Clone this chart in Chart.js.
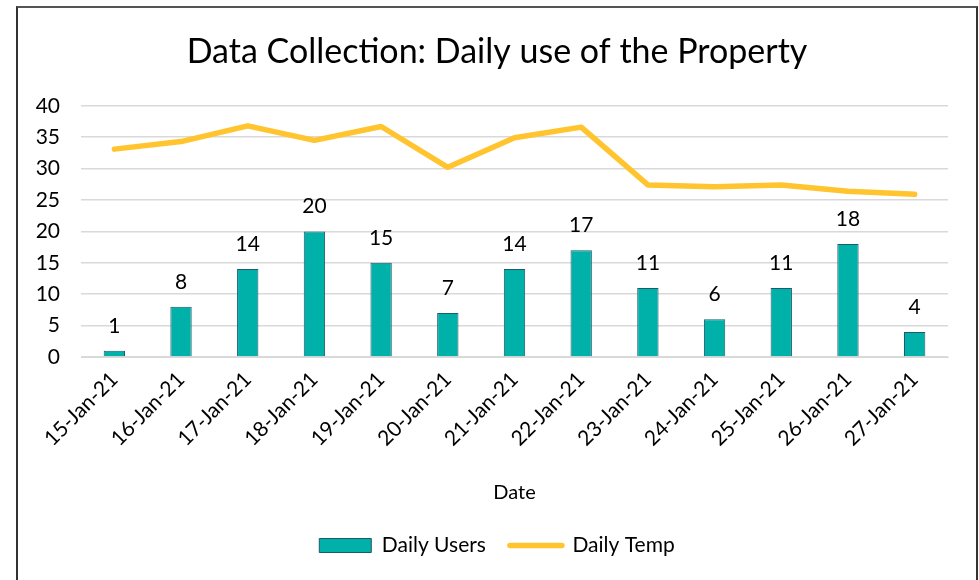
<!DOCTYPE html>
<html>
<head>
<meta charset="utf-8">
<script src="https://cdn.jsdelivr.net/npm/chart.js@4.4.1/dist/chart.umd.min.js"></script>
<style>
  html, body { margin: 0; padding: 0; background: #fff; }
  #wrap { position: relative; width: 979px; height: 580px; overflow: hidden; }
  #frame { position: absolute; left: 16px; top: 6px; width: 958px; height: 600px;
           border-left: 2px solid #333; border-right: 2px solid #333; border-top: 2px solid #555; }
  canvas { position: absolute; left: 0; top: 0; }
</style>
</head>
<body>
<div id="wrap">
  <div id="frame"></div>
  <canvas id="c" width="979" height="580"></canvas>
</div>
<script>
const categories = ['15-Jan-21','16-Jan-21','17-Jan-21','18-Jan-21','19-Jan-21','20-Jan-21','21-Jan-21','22-Jan-21','23-Jan-21','24-Jan-21','25-Jan-21','26-Jan-21','27-Jan-21'];
const dailyUsers = [1, 8, 14, 20, 15, 7, 14, 17, 11, 6, 11, 18, 4];
const dailyTemp = [33.1, 34.3, 36.8, 34.5, 36.7, 30.2, 34.9, 36.6, 27.4, 27.1, 27.4, 26.4, 25.9];
const yTicks = [0, 5, 10, 15, 20, 25, 30, 35, 40];

const FONT = 'Lato, "Noto Sans", sans-serif';

const barLabels = {
  id: 'barLabels',
  afterDatasetsDraw(chart) {
    const ctx = chart.ctx;
    const meta = chart.getDatasetMeta(0);
    ctx.save();
    ctx.font = '21px ' + FONT;
    ctx.fillStyle = '#000';
    ctx.textAlign = 'center';
    ctx.textBaseline = 'alphabetic';
    meta.data.forEach((bar, i) => {
      ctx.fillText(String(dailyUsers[i]), bar.x, bar.y - 18);
    });
    ctx.restore();
  }
};

new Chart(document.getElementById('c'), {
  data: {
    labels: categories,
    datasets: [
      {
        type: 'bar',
        label: 'Daily Users',
        data: dailyUsers,
        backgroundColor: '#00B1A9',
        borderColor: '#1D5A6A',
        borderWidth: 1,
        categoryPercentage: 1,
        barPercentage: 0.32,
        order: 2
      },
      {
        type: 'line',
        label: 'Daily Temp',
        data: dailyTemp,
        borderColor: '#FFC42E',
        backgroundColor: '#FFC42E',
        borderWidth: 5.5,
        borderCapStyle: 'round',
        borderJoinStyle: 'round',
        pointRadius: 0,
        pointHoverRadius: 0,
        tension: 0,
        order: 1
      }
    ]
  },
  options: {
    responsive: false,
    animation: false,
    devicePixelRatio: 1,
    layout: { padding: { left: 17, right: 2, top: 32, bottom: 14 } },
    plugins: {
      tooltip: { enabled: false },
      title: {
        display: true,
        text: 'Data Collection: Daily use of the Property',
        color: '#000',
        font: { family: FONT, size: 34, weight: 'normal' },
        padding: { top: 0, bottom: 33 }
      },
      legend: {
        position: 'bottom',
        labels: {
          color: '#000',
          font: { family: FONT, size: 21 },
          usePointStyle: true,
          pointStyleWidth: 52,
          boxHeight: 14,
          padding: 24,
          sort: (a, b) => a.datasetIndex - b.datasetIndex,
          generateLabels(chart) {
            const items = Chart.defaults.plugins.legend.labels.generateLabels(chart);
            items.forEach(it => {
              if (it.datasetIndex === 0) { it.pointStyle = 'rect'; it.lineWidth = 1; }
              else { it.pointStyle = 'line'; it.lineWidth = 5.5; it.strokeStyle = '#FFC42E'; it.lineCap = 'round'; }
            });
            return items;
          }
        }
      }
    },
    scales: {
      x: {
        afterFit(scale) { scale.height = 154; },
        grid: { display: false, drawTicks: false },
        border: { display: true, color: '#d9d9d9', width: 1 },
        ticks: {
          color: '#000',
          font: { family: FONT, size: 21 },
          maxRotation: 45,
          minRotation: 45,
          padding: 10,
          autoSkip: false
        },
        title: {
          display: true,
          text: 'Date',
          color: '#000',
          font: { family: FONT, size: 20 },
          padding: { top: 24, bottom: 6 }
        }
      },
      y: {
        min: 0,
        max: 40,
        afterBuildTicks(scale) { scale.ticks = yTicks.map(v => ({ value: v })); },
        afterFit(scale) { scale.width = 64; },
        grid: { color: '#d9d9d9', lineWidth: 1.5, drawTicks: false },
        border: { display: false },
        ticks: {
          color: '#000',
          font: { family: FONT, size: 21 },
          padding: 21
        }
      },
      yRightSpace: {
        type: 'linear',
        position: 'right',
        display: true,
        afterFit(scale) { scale.width = 29; },
        grid: { display: false, drawTicks: false },
        border: { display: false },
        ticks: { display: false }
      }
    }
  },
  plugins: [barLabels]
});
</script>
</body>
</html>
